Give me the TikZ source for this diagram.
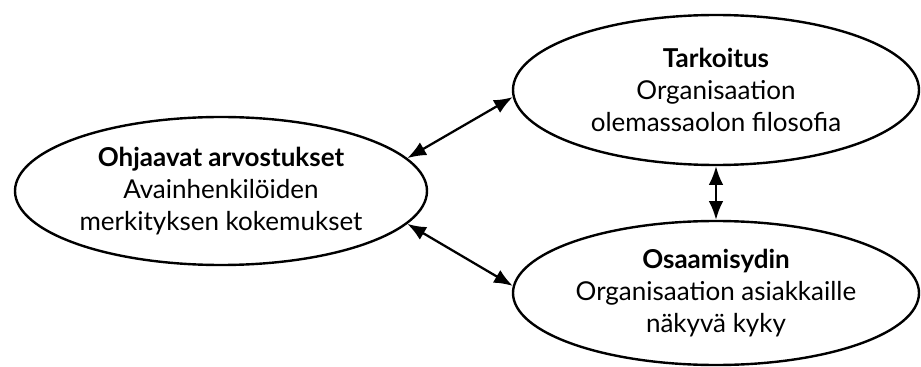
\documentclass[tikz,border=0pt]{standalone}
\usepackage{fontspec}
\setmainfont{Lato}
\usetikzlibrary{shapes.geometric,arrows.meta}
\begin{document}
\begin{tikzpicture}[x=0.75pt,y=-0.75pt,
  bubble/.style={draw, line width=1.8pt, ellipse, inner sep=0pt,
    minimum width=307pt, minimum height=111pt, align=center,
    font=\fontsize{19.5}{24}\selectfont},
  link/.style={line width=1.7pt, {Latex[length=14pt,width=11pt]}-{Latex[length=14pt,width=11pt]}}]
  \useasboundingbox (0,0) rectangle (921,367);
  \node[bubble, minimum width=309pt] (L) at (221,191)
    {\textbf{Ohjaavat arvostukset}\\Avainhenkilöiden\\merkityksen kokemukset};
  \node[bubble, minimum width=304.5pt, minimum height=112.5pt] (T) at (716,90)
    {\textbf{Tarkoitus}\\Organisaation\\olemassaolon filosofia};
  \node[bubble, minimum width=304.5pt, minimum height=108pt] (B) at (716,293)
    {\textbf{Osaamisydin}\\Organisaation asiakkaille\\näkyvä kyky};
  \draw[link] (L.10) -- (T.182);
  \draw[link] (L.-10) -- (B.178);
  \draw[link] (T.south) -- (B.north);
\end{tikzpicture}
\end{document}
